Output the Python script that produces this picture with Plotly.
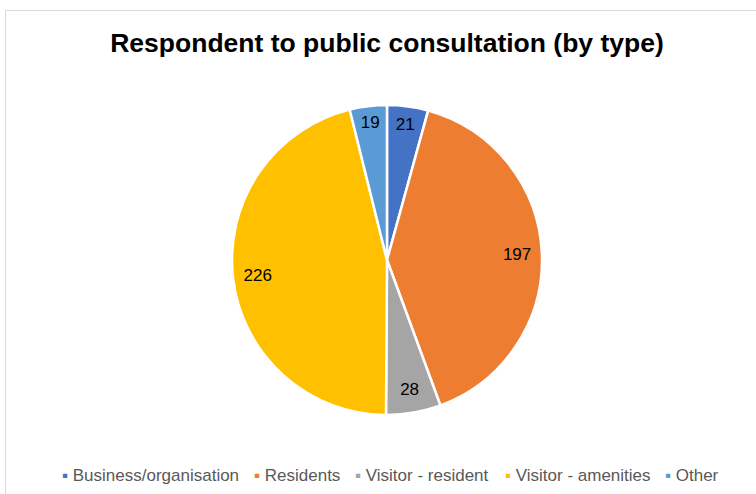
import plotly.graph_objects as go

categories = ["Business/organisation", "Residents", "Visitor - resident", "Visitor - amenities", "Other"]
values = [21, 197, 28, 226, 19]
colors = ["#4472C4", "#ED7D31", "#A5A5A5", "#FFC000", "#5B9BD5"]

W, H = 756, 494
cx, cy, r = 387, 260, 155
FONT = "Liberation Sans, Arial, sans-serif"
dom = dict(x=[(cx - r) / W, (cx + r) / W], y=[(H - cy - r) / H, (H - cy + r) / H])

fig = go.Figure()
# coloured slices
fig.add_trace(go.Pie(
    labels=categories, values=values, sort=False, direction="clockwise", rotation=0,
    marker=dict(colors=colors, line=dict(color="white", width=2.5)),
    textinfo="none", domain=dom, showlegend=False, hoverinfo="label+value",
))
# transparent ring carrying the value labels (places them near the rim like Excel)
fig.add_trace(go.Pie(
    labels=categories, values=values, sort=False, direction="clockwise", rotation=0,
    hole=0.68,
    marker=dict(colors=["rgba(0,0,0,0)"] * len(values), line=dict(width=0)),
    textinfo="value", textposition="inside", insidetextorientation="horizontal",
    textfont=dict(family=FONT, size=17, color="black"),
    domain=dom, showlegend=False, hoverinfo="skip",
))

# one small legend per entry so spacing matches the original
legend_text_x = [73, 265, 366, 516, 676]
legend_layouts = {}
for i, (name, col) in enumerate(zip(categories, colors)):
    key = "legend" if i == 0 else f"legend{i + 1}"
    fig.add_trace(go.Scatter(
        x=[None], y=[None], mode="markers", name=f'<span style="color:{col}">\u25aa</span> {name}',
        marker=dict(color="rgba(0,0,0,0)", size=1),
        showlegend=True, hoverinfo="skip", legend=key,
    ))
    legend_layouts[key] = dict(
        orientation="h", xref="container", yref="container",
        x=(legend_text_x[i] - 51) / W, xanchor="left", y=(H - 475) / H, yanchor="middle",
        font=dict(family=FONT, size=17, color="#595959"),
        itemwidth=30, bgcolor="rgba(0,0,0,0)",
    )

fig.update_layout(
    width=W, height=H,
    margin=dict(l=0, r=0, t=0, b=0, autoexpand=False),
    paper_bgcolor="white", plot_bgcolor="white",
    xaxis=dict(visible=False), yaxis=dict(visible=False),
    title=dict(text="<b>Respondent to public consultation (by type)</b>",
               x=387 / W, xanchor="center", y=(H - 43) / H, yanchor="middle",
               font=dict(family=FONT, size=26.5, color="black")),
    shapes=[
        dict(type="line", xref="paper", yref="paper", x0=5.5 / W, x1=5.5 / W, y0=-0.05, y1=(H - 10.5) / H,
             line=dict(color="#D9D9D9", width=1), layer="below"),
        dict(type="line", xref="paper", yref="paper", x0=5.5 / W, x1=1.05, y0=(H - 10.5) / H, y1=(H - 10.5) / H,
             line=dict(color="#D9D9D9", width=1), layer="below"),
    ],
    **legend_layouts,
)

fig.write_html("out.html", config={"displayModeBar": False},
               post_script="document.body.style.margin='0';")
